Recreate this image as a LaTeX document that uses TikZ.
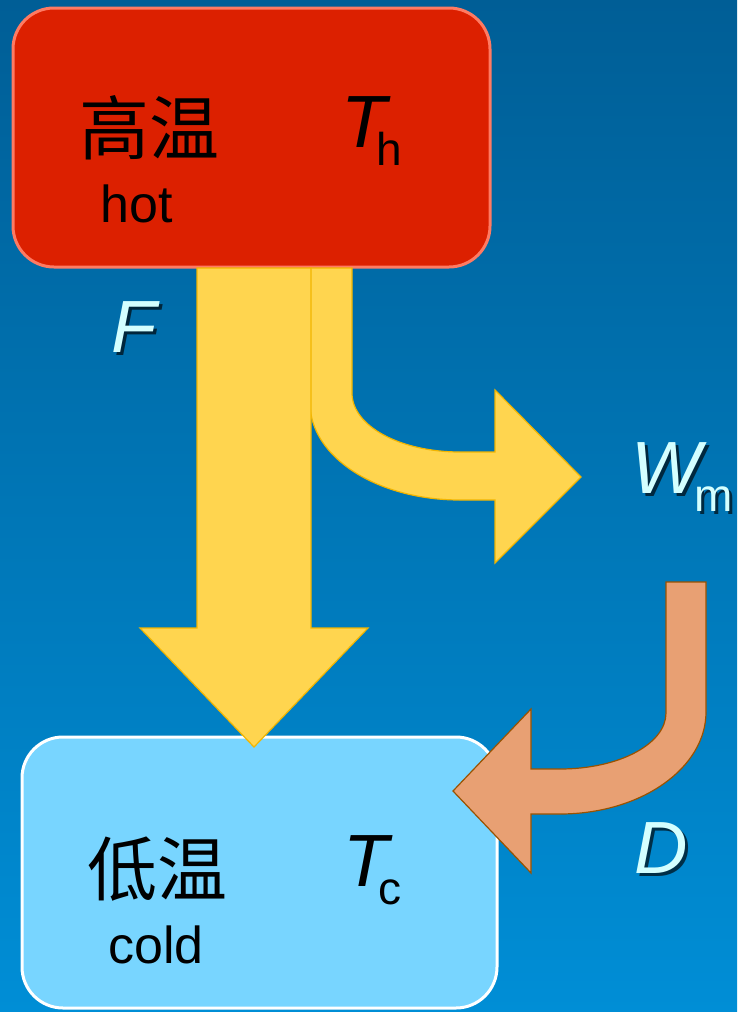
\documentclass[tikz,border=0pt]{standalone}
\usepackage{fontspec}
\setmainfont{Liberation Sans}
\newfontfamily\cjk{Noto Sans CJK SC}
\definecolor{bgtop}{HTML}{005E96}
\definecolor{bgbot}{HTML}{008ED6}
\definecolor{hotfill}{HTML}{DC2000}
\definecolor{hotedge}{HTML}{FF7A62}
\definecolor{coldfill}{HTML}{78D5FF}
\definecolor{heatfill}{HTML}{FFD54F}
\definecolor{heatedge}{HTML}{F2B500}
\definecolor{dissfill}{HTML}{E8A073}
\definecolor{dissedge}{HTML}{9A5200}
\definecolor{labelcol}{HTML}{D4FFFF}
% upright subscript set lower and smaller than the main symbol
\newcommand\lowidx[1]{\raisebox{-18pt}{\upshape\fontsize{46pt}{46pt}\selectfont #1}}
\begin{document}
\begin{tikzpicture}[x=1pt,y=-1pt,
  reservoir/.style={rounded corners=41pt, line width=3pt, inner sep=0pt},
  cjktext/.style={inner sep=0pt, font=\cjk\fontsize{70pt}{80pt}\selectfont},
  wordtext/.style={anchor=base west, inner sep=0pt, font=\fontsize{52pt}{60pt}\selectfont},
  symtext/.style={anchor=base west, inner sep=0pt, font=\itshape\fontsize{74pt}{80pt}\selectfont},
  flowlabel/.style={symtext, text=labelcol},
  flowshadow/.style={symtext, text=black, opacity=0.65},
  heatarrow/.style={fill=heatfill, draw=heatedge, line width=1.2pt, line join=miter},
  dissarrow/.style={fill=dissfill, draw=dissedge, line width=1.2pt, line join=miter}]
\useasboundingbox (0,0) rectangle (737,1012);
\shade[top color=bgtop, bottom color=bgbot] (0,0) rectangle (737,1012);

% reservoirs
\node[reservoir, fill=coldfill, draw=white, minimum width=475pt, minimum height=271pt] (cold) at (259.5,872.5) {};
\node[reservoir, fill=hotfill, draw=hotedge, minimum width=477pt, minimum height=259pt] (hot) at (251.5,137.5) {};

\node[cjktext] (hotname) at (149,128) {高温};
\node[wordtext] (hotword) at (100,222) {hot};
\node[symtext] (Th) at (341,147) {T\kern-10pt\lowidx{h}};

\node[cjktext] (coldname) at (157.5,869) {低温};
\node[wordtext] (coldword) at (108,963) {cold};
\node[symtext] (Tc) at (343,886) {T\kern-10pt\lowidx{c}};

% work branch, bending off to the right
\draw[heatarrow] (310,268) -- (310,403) .. controls (310,457) and (377,500) .. (460,500)
  -- (495,500) -- (495,563) -- (581,477) -- (495,390) -- (495,452) -- (460,452)
  .. controls (400,452) and (352,426) .. (352,393) -- (352,268) -- cycle;
% heat flow from hot to cold
\draw[heatarrow] (197,268) -- (197,628) -- (140,628) -- (254,747) -- (368,628)
  -- (311,628) -- (311,268) -- cycle;
% dissipation back into the cold reservoir
\draw[dissarrow] (666,582) -- (666,713) .. controls (666,744) and (619,769) .. (560,769)
  -- (531,769) -- (531,709) -- (453,791) -- (531,873) -- (531,814) -- (560,814)
  .. controls (641,814) and (706,768) .. (706,712) -- (706,582) -- cycle;

% flow labels with drop shadows
\node[flowshadow] (Fs) at (114,355) {F};
\node[flowlabel] (F) at (111,352) {F};
\node[flowshadow] (Ws) at (634,496) {W\kern-7pt\lowidx{m}};
\node[flowlabel] (W) at (631,493) {W\kern-7pt\lowidx{m}};
\node[flowshadow] (Ds) at (637,876) {D};
\node[flowlabel] (D) at (634,873) {D};
\end{tikzpicture}
\end{document}
